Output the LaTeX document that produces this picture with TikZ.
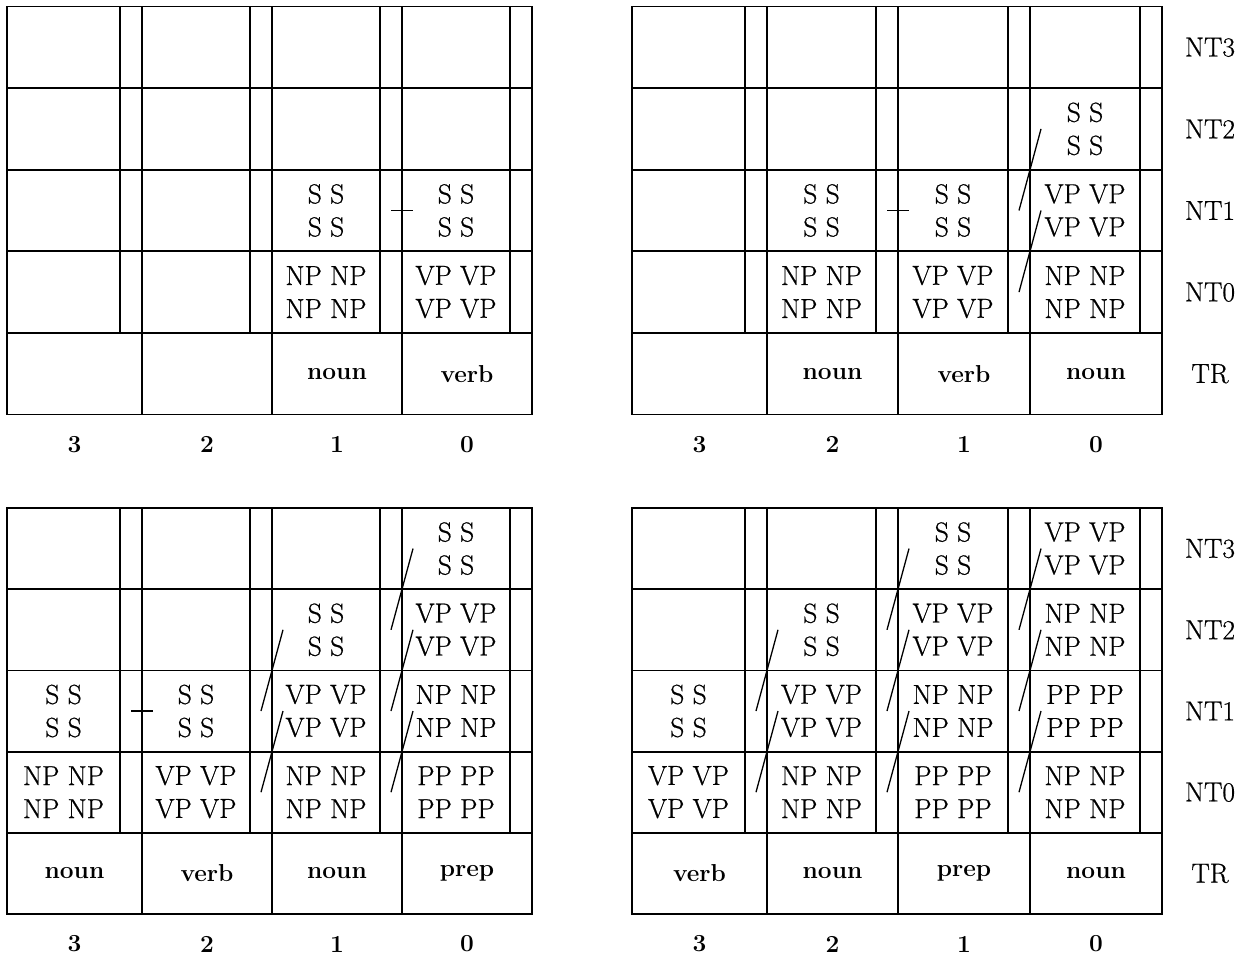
\documentclass[tikz,border=0pt]{standalone}
\usepackage{fontspec}
\newfontfamily\heavyrm{Latin Modern Roman}[FakeBold=0.7]
\tikzset{
  gridline/.style={line width=1.8pt, line cap=rect},
  linkline/.style={line width=1.3pt},
  cellt/.style={font=\heavyrm\fontsize{27.5}{33}\selectfont, align=center, inner sep=0pt},
  trt/.style={font=\fontsize{24.5}{28}\selectfont\bfseries, inner sep=0pt},
  labt/.style={font=\heavyrm\fontsize{27.5}{33}\selectfont, inner sep=0pt},
}
\newcommand\drawgrid[4]{%
  \def\xl{{#2}}%
  \pgfmathsetmacro\rh{(#4-#3)/5}%
  \pgfmathsetmacro\xL{\xl[0]}%
  \pgfmathsetmacro\xR{\xl[4]}%
  \draw[gridline] (\xL,#3) rectangle (\xR,#4);
  \foreach \i in {1,2,3,4} {\draw[gridline] (\xL,{#3+\i*\rh}) -- (\xR,{#3+\i*\rh});}
  \foreach \k in {0,1,2,3} {
    \pgfmathsetmacro\xa{\xl[\k]}
    \pgfmathsetmacro\xb{\xl[\k+1]}
    \pgfmathtruncatemacro\lab{3-\k}
    \draw[gridline] ({\xb-22},#3) -- ({\xb-22},{#3+4*\rh});
    \ifnum\k>0 \draw[gridline] (\xa,#3) -- (\xa,#4); \fi
    \foreach \rr in {0,1,2,3} {
      \pgfmathtruncatemacro\rl{3-\rr}
      \coordinate (#1-\lab-\rl) at ({(\xa+\xb-22)/2},{#3+(\rr+0.5)*\rh});
      \coordinate (#1-\lab-\rl-L) at (\xa,{#3+(\rr+0.5)*\rh});
    }
    \coordinate (#1-\lab-T) at ({(\xa+\xb)/2},{#3+4.5*\rh});
    \node[trt] (#1-num-\lab) at ({(\xa+\xb)/2},{#4+30}) {\lab};
  }
}
\newcommand\putcell[2]{\node[cellt] (#1-t) at (#1) {#2\\#2};}
\newcommand\putword[2]{\node[trt] (#1-t) at (#1) {#2};}
\newcommand\linkup[3]{\draw[linkline] ([xshift=-11pt]#1-#2-L) -- ([xshift=11pt]#1-#3-L);}
\newcommand\linkflat[2]{\draw[linkline] ([xshift=-11pt]#1-#2-L) -- ([xshift=11pt]#1-#2-L);}
\begin{document}
\begin{tikzpicture}[x=1pt,y=-1pt]
\useasboundingbox (0,0) rectangle (1250,955);

% ---------- top left ----------
\drawgrid{tl}{7,142,272,402,532}{6.5}{414.5}
\putcell{tl-1-0}{NP NP}
\putcell{tl-0-0}{VP VP}
\putcell{tl-1-1}{S S}
\putcell{tl-0-1}{S S}
\putword{tl-1-T}{noun}
\putword{tl-0-T}{verb}
\linkflat{tl-0}{1}

% ---------- top right ----------
\drawgrid{tr}{632,767,898,1030,1162}{6.5}{414.5}
\putcell{tr-2-0}{NP NP}
\putcell{tr-1-0}{VP VP}
\putcell{tr-0-0}{NP NP}
\putcell{tr-2-1}{S S}
\putcell{tr-1-1}{S S}
\putcell{tr-0-1}{VP VP}
\putcell{tr-0-2}{S S}
\putword{tr-2-T}{noun}
\putword{tr-1-T}{verb}
\putword{tr-0-T}{noun}
\linkflat{tr-1}{1}
\linkup{tr-0}{0}{1}
\linkup{tr-0}{1}{2}
\node[labt] (tr-NT3) at (1210,47.3) {NT3};
\node[labt] (tr-NT2) at (1210,128.9) {NT2};
\node[labt] (tr-NT1) at (1210,210.5) {NT1};
\node[labt] (tr-NT0) at (1210,292.1) {NT0};
\node[labt] (tr-TR) at (1210,373.7) {TR};

% ---------- bottom left ----------
\drawgrid{bl}{7,142,272,402,532}{508}{914}
\putcell{bl-3-0}{NP NP}
\putcell{bl-2-0}{VP VP}
\putcell{bl-1-0}{NP NP}
\putcell{bl-0-0}{PP PP}
\putcell{bl-3-1}{S S}
\putcell{bl-2-1}{S S}
\putcell{bl-1-1}{VP VP}
\putcell{bl-0-1}{NP NP}
\putcell{bl-1-2}{S S}
\putcell{bl-0-2}{VP VP}
\putcell{bl-0-3}{S S}
\putword{bl-3-T}{noun}
\putword{bl-2-T}{verb}
\putword{bl-1-T}{noun}
\putword{bl-0-T}{prep}
\linkflat{bl-2}{1}
\linkup{bl-1}{0}{1}
\linkup{bl-1}{1}{2}
\linkup{bl-0}{0}{1}
\linkup{bl-0}{1}{2}
\linkup{bl-0}{2}{3}

% ---------- bottom right ----------
\drawgrid{br}{632,767,898,1030,1162}{508}{914}
\putcell{br-3-0}{VP VP}
\putcell{br-2-0}{NP NP}
\putcell{br-1-0}{PP PP}
\putcell{br-0-0}{NP NP}
\putcell{br-3-1}{S S}
\putcell{br-2-1}{VP VP}
\putcell{br-1-1}{NP NP}
\putcell{br-0-1}{PP PP}
\putcell{br-2-2}{S S}
\putcell{br-1-2}{VP VP}
\putcell{br-0-2}{NP NP}
\putcell{br-1-3}{S S}
\putcell{br-0-3}{VP VP}
\putword{br-3-T}{verb}
\putword{br-2-T}{noun}
\putword{br-1-T}{prep}
\putword{br-0-T}{noun}
\linkup{br-2}{0}{1}
\linkup{br-2}{1}{2}
\linkup{br-1}{0}{1}
\linkup{br-1}{1}{2}
\linkup{br-1}{2}{3}
\linkup{br-0}{0}{1}
\linkup{br-0}{1}{2}
\linkup{br-0}{2}{3}
\node[labt] (br-NT3) at (1210,548.6) {NT3};
\node[labt] (br-NT2) at (1210,629.8) {NT2};
\node[labt] (br-NT1) at (1210,711) {NT1};
\node[labt] (br-NT0) at (1210,792.2) {NT0};
\node[labt] (br-TR) at (1210,873.4) {TR};
\end{tikzpicture}
\end{document}
